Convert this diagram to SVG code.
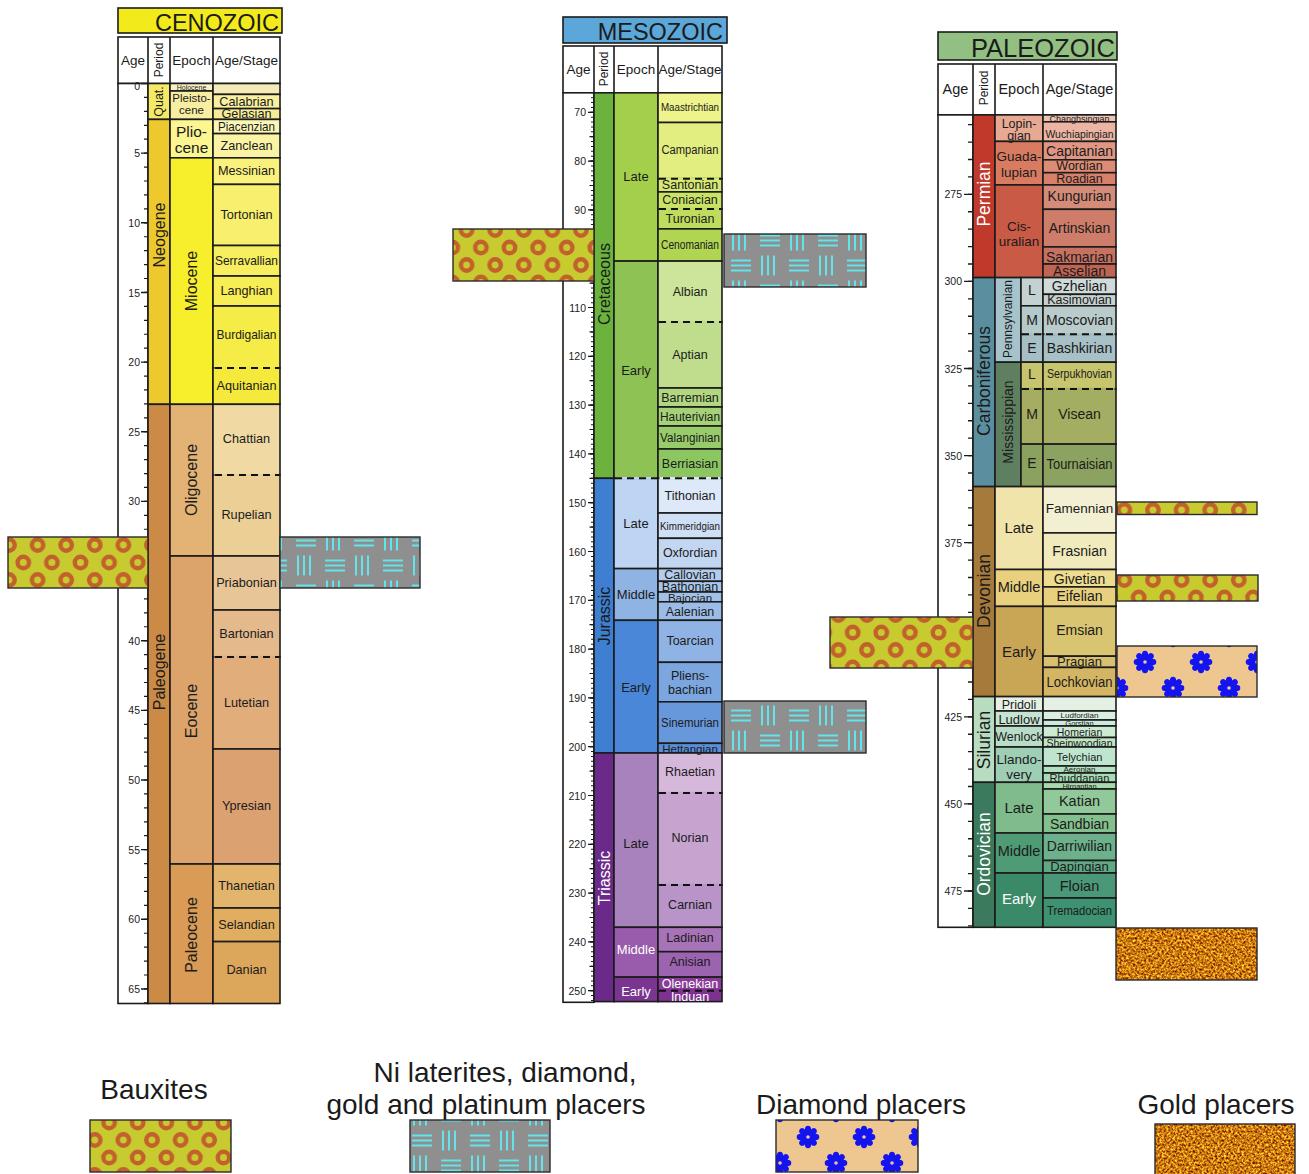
<svg xmlns="http://www.w3.org/2000/svg" width="1309" height="1174" viewBox="0 0 1309 1174">
<style>
.c{stroke:#1b1b1b;stroke-width:1.6}
.ob{fill:none;stroke:#2a2a2a;stroke-width:1.4}
text{font-family:"Liberation Sans",Arial,Helvetica,sans-serif;fill:#1b1b1b}
.m{text-anchor:middle;dominant-baseline:central}
.cs{font-size:12.7px}
.ce{font-size:16px}
.ms{font-size:12.5px}
.me{font-size:13px}
.ps{font-size:14px}
.pe{font-size:14.5px}
.pp{font-size:17.5px}
.h{font-size:13.5px}
.hp{font-size:12px}
.ax{font-size:10.5px;text-anchor:end;dominant-baseline:central;fill:#222}
.w{fill:#fff}
.d{stroke:#111;stroke-width:2;stroke-dasharray:7 5;fill:none}
.lg{font-size:28px;text-anchor:middle}
.ttl{text-anchor:end}
</style>
<defs>
<pattern id="pBaux" patternUnits="userSpaceOnUse" width="28.6" height="35" x="9" y="545">
<rect width="28.6" height="35" fill="#c7cb30"/>
<g fill="none" stroke="#c2612c" stroke-width="4.4">
<circle cx="0" cy="0" r="5.7"/><circle cx="28.6" cy="0" r="5.7"/><circle cx="0" cy="35" r="5.7"/><circle cx="28.6" cy="35" r="5.7"/><circle cx="14.3" cy="17.5" r="5.7"/>
</g>
</pattern>
<pattern id="pNi" patternUnits="userSpaceOnUse" width="58" height="50" x="410" y="1128">
<rect width="58" height="50" fill="#8f8f8f"/>
<path fill="none" stroke="#63e3ea" stroke-width="2" d="M2 7.5H22M2 12.5H22M2 17.5H22M33 2.5V22.5M39 2.5V22.5M45 2.5V22.5M31 32.5H51M31 37.5H51M31 42.5H51M4 27.5V47.5M10 27.5V47.5M16 27.5V47.5"/>
</pattern>
<g id="flw">
<g fill="#1414f0">
<ellipse cx="0" cy="-7" rx="3.2" ry="4.3"/>
<ellipse cx="0" cy="-7" rx="3.2" ry="4.3" transform="rotate(45)"/>
<ellipse cx="0" cy="-7" rx="3.2" ry="4.3" transform="rotate(90)"/>
<ellipse cx="0" cy="-7" rx="3.2" ry="4.3" transform="rotate(135)"/>
<ellipse cx="0" cy="-7" rx="3.2" ry="4.3" transform="rotate(180)"/>
<ellipse cx="0" cy="-7" rx="3.2" ry="4.3" transform="rotate(225)"/>
<ellipse cx="0" cy="-7" rx="3.2" ry="4.3" transform="rotate(270)"/>
<ellipse cx="0" cy="-7" rx="3.2" ry="4.3" transform="rotate(315)"/>
<circle r="5"/>
</g>
<circle r="1.8" fill="#eec68f"/>
</g>
<pattern id="pDia" patternUnits="userSpaceOnUse" width="56" height="52" x="794" y="1124">
<rect width="56" height="52" fill="#eec68f"/>
<use href="#flw" x="14" y="13"/><use href="#flw" x="42" y="39"/>
</pattern>
<pattern id="pDia2" patternUnits="userSpaceOnUse" width="56" height="52" x="1131" y="649">
<rect width="56" height="52" fill="#eec68f"/>
<use href="#flw" x="14" y="13"/><use href="#flw" x="42" y="39"/>
</pattern>
<filter id="fGold" x="0" y="0" width="1" height="1" color-interpolation-filters="sRGB">
<feTurbulence type="fractalNoise" baseFrequency="0.45" numOctaves="2" seed="7"/>
<feColorMatrix type="matrix" values="1.1 0 0 0 0.24  1.5 0 0 0 -0.27  0.3 0 0 0 -0.08  0 0 0 0 1"/>
</filter>
</defs>
<rect width="1309" height="1174" fill="#fff"/>

<g id="cenozoic">
<rect class="c" x="118" y="8" width="164" height="25" fill="#f3ea1b" stroke-width="2"/>
<text class="ttl" x="279" y="30.7" font-size="23.5">CENOZOIC</text>
<rect class="c" x="118" y="37" width="162" height="46.5" fill="#fff"/>
<path class="c" fill="none" d="M148 37V83.5M170 37V83.5M213 37V83.5"/>
<text class="m h" x="133" y="60">Age</text>
<text class="m hp" transform="translate(159,60) rotate(-90)">Period</text>
<text class="m h" x="191.5" y="60">Epoch</text>
<text class="m h" x="246.5" y="60">Age/Stage</text>
<rect class="c" x="118" y="83.5" width="30" height="920" fill="#fff"/>
<line x1="146" y1="82.9" x2="146" y2="1004" stroke="#1b1b1b" stroke-width="4" stroke-dasharray="1.2 12.73"/>
<line x1="144.5" y1="82.8" x2="144.5" y2="1004" stroke="#1b1b1b" stroke-width="7" stroke-dasharray="1.4 68.25"/>
<text class="ax" x="140" y="86">0</text><text class="ax" x="140" y="153.2">5</text><text class="ax" x="140" y="222.8">10</text><text class="ax" x="140" y="292.5">15</text><text class="ax" x="140" y="362.1">20</text><text class="ax" x="140" y="431.8">25</text><text class="ax" x="140" y="501.4">30</text><text class="ax" x="140" y="571.1">35</text><text class="ax" x="140" y="640.7">40</text><text class="ax" x="140" y="710.4">45</text><text class="ax" x="140" y="780">50</text><text class="ax" x="140" y="849.7">55</text><text class="ax" x="140" y="919.3">60</text><text class="ax" x="140" y="989">65</text>
<rect class="c" x="148" y="83.5" width="22" height="35.9" fill="#f5ea68"/>
<rect class="c" x="148" y="119.4" width="22" height="284.9" fill="#edc92e"/>
<rect class="c" x="148" y="404.3" width="22" height="599.2" fill="#cc8a47"/>
<text class="m" font-size="12.5" transform="translate(159,101.5) rotate(-90)">Quat.</text>
<text class="m ce" transform="translate(159,235) rotate(-90)">Neogene</text>
<text class="m ce" transform="translate(159,672) rotate(-90)">Paleogene</text>
<rect class="c" x="170" y="83.5" width="43" height="7.5" fill="#faf2c6"/>
<rect class="c" x="170" y="91" width="43" height="28.4" fill="#f8eea2"/>
<rect class="c" x="170" y="119.4" width="43" height="38.4" fill="#fbf592"/>
<rect class="c" x="170" y="157.8" width="43" height="246.5" fill="#f7ef2c"/>
<rect class="c" x="170" y="404.3" width="43" height="151.7" fill="#e2b374"/>
<rect class="c" x="170" y="556" width="43" height="308" fill="#dca36a"/>
<rect class="c" x="170" y="864" width="43" height="139.5" fill="#d99b56"/>
<text class="m" font-size="7" x="191.5" y="87.3">Holocene</text>
<text class="m" font-size="11.5" x="191.5" y="97.5">Pleisto-</text>
<text class="m" font-size="11.5" x="191.5" y="109.5">cene</text>
<text class="m" font-size="15.5" x="191.5" y="131.5">Plio-</text>
<text class="m" font-size="15.5" x="191.5" y="147.5">cene</text>
<text class="m ce" transform="translate(191.5,281) rotate(-90)">Miocene</text>
<text class="m ce" transform="translate(191.5,480) rotate(-90)">Oligocene</text>
<text class="m ce" transform="translate(191.5,711) rotate(-90)">Eocene</text>
<text class="m ce" transform="translate(191.5,935) rotate(-90)">Paleocene</text>
<rect class="c" x="213" y="83.5" width="67" height="10.9" fill="#f5ebb8"/>
<rect class="c" x="213" y="94.4" width="67" height="14.2" fill="#f8f09e"/>
<rect class="c" x="213" y="108.6" width="67" height="10.8" fill="#f6ec96"/>
<rect class="c" x="213" y="119.4" width="67" height="14.2" fill="#fbf6b6"/>
<rect class="c" x="213" y="133.6" width="67" height="24.2" fill="#faf3a4"/>
<rect class="c" x="213" y="157.8" width="67" height="26.6" fill="#f9f17c"/>
<rect class="c" x="213" y="184.4" width="67" height="61.1" fill="#f8ef6e"/>
<rect class="c" x="213" y="245.5" width="67" height="30.5" fill="#f7ee60"/>
<rect class="c" x="213" y="276" width="67" height="30" fill="#f7ed54"/>
<rect class="c" x="213" y="306" width="67" height="62" fill="#f6ec48"/>
<rect class="c" x="213" y="368" width="67" height="36.3" fill="#f5ea3c"/>
<rect class="c" x="213" y="404.3" width="67" height="70.7" fill="#f0d9a3"/>
<rect class="c" x="213" y="475" width="67" height="81" fill="#eccf95"/>
<rect class="c" x="213" y="556" width="67" height="54" fill="#e8c597"/>
<rect class="c" x="213" y="610" width="67" height="47" fill="#e4b98b"/>
<rect class="c" x="213" y="657" width="67" height="92" fill="#e0ad7b"/>
<rect class="c" x="213" y="749" width="67" height="115" fill="#dca171"/>
<rect class="c" x="213" y="864" width="67" height="44" fill="#e3b46b"/>
<rect class="c" x="213" y="908" width="67" height="33.6" fill="#e1ae61"/>
<rect class="c" x="213" y="941.6" width="67" height="61.9" fill="#dca65b"/>
<path stroke-width="2.6" fill="none" d="M214.5 368H278.5" stroke="#f5ea3c"/>
<path stroke-width="2.6" fill="none" d="M214.5 475H278.5" stroke="#eccf95"/>
<path stroke-width="2.6" fill="none" d="M214.5 657H278.5" stroke="#e0ad7b"/>
<path class="d" d="M215 368H279M215 475H279M215 657H279"/>
<g class="m cs">
<text x="246.5" y="101.5">Calabrian</text>
<text x="246.5" y="114">Gelasian</text>
<text x="246.5" y="126.5" textLength="57" lengthAdjust="spacingAndGlyphs">Piacenzian</text>
<text x="246.5" y="145.7">Zanclean</text>
<text x="246.5" y="171.1">Messinian</text>
<text x="246.5" y="215">Tortonian</text>
<text x="246.5" y="260.8" textLength="63" lengthAdjust="spacingAndGlyphs">Serravallian</text>
<text x="246.5" y="291">Langhian</text>
<text x="246.5" y="335" textLength="60" lengthAdjust="spacingAndGlyphs">Burdigalian</text>
<text x="246.5" y="386">Aquitanian</text>
<text x="246.5" y="439">Chattian</text>
<text x="246.5" y="515">Rupelian</text>
<text x="246.5" y="582.5">Priabonian</text>
<text x="246.5" y="633.5">Bartonian</text>
<text x="246.5" y="703">Lutetian</text>
<text x="246.5" y="806">Ypresian</text>
<text x="246.5" y="886">Thanetian</text>
<text x="246.5" y="925">Selandian</text>
<text x="246.5" y="970">Danian</text>
</g>
</g>

<g id="mesozoic">
<rect class="c" x="563" y="17" width="164" height="26" fill="#5ba7da" stroke-width="2"/>
<text class="ttl" x="723" y="40" font-size="23.5">MESOZOIC</text>
<rect class="c" x="563" y="46" width="159" height="46.8" fill="#fff"/>
<path class="c" fill="none" d="M594 46V92.8M614 46V92.8M658 46V92.8"/>
<text class="m h" x="578.5" y="69.5">Age</text>
<text class="m hp" transform="translate(604,69) rotate(-90)">Period</text>
<text class="m h" x="636" y="69.5">Epoch</text>
<text class="m h" x="690" y="69.5">Age/Stage</text>
<rect class="c" x="563" y="92.8" width="31" height="909.5" fill="#fff"/>
<line x1="592.5" y1="92.3" x2="592.5" y2="1002" stroke="#1b1b1b" stroke-width="3" stroke-dasharray="1 3.88"/>
<line x1="591.75" y1="111.7" x2="591.75" y2="1002" stroke="#1b1b1b" stroke-width="4.5" stroke-dasharray="1.2 23.2"/>
<line x1="591" y1="111.7" x2="591" y2="1002" stroke="#1b1b1b" stroke-width="6" stroke-dasharray="1.2 47.6"/>
<g font-size="10">
<text class="ax" x="586" y="112.3">70</text><text class="ax" x="586" y="161.1">80</text><text class="ax" x="586" y="209.9">90</text><text class="ax" x="586" y="258.7">100</text><text class="ax" x="586" y="307.5">110</text><text class="ax" x="586" y="356.3">120</text><text class="ax" x="586" y="405.1">130</text><text class="ax" x="586" y="453.9">140</text><text class="ax" x="586" y="502.7">150</text><text class="ax" x="586" y="551.5">160</text><text class="ax" x="586" y="600.3">170</text><text class="ax" x="586" y="649.1">180</text><text class="ax" x="586" y="697.9">190</text><text class="ax" x="586" y="746.7">200</text><text class="ax" x="586" y="795.5">210</text><text class="ax" x="586" y="844.3">220</text><text class="ax" x="586" y="893.1">230</text><text class="ax" x="586" y="941.9">240</text><text class="ax" x="586" y="990.7">250</text>
</g>
<rect class="c" x="594" y="92.8" width="20" height="385.5" fill="#6cb33e"/>
<rect class="c" x="594" y="478.3" width="20" height="274.7" fill="#3f7fd2"/>
<rect class="c" x="594" y="753" width="20" height="248.6" fill="#6b2a89"/>
<text class="m ce" transform="translate(604,284) rotate(-90)">Cretaceous</text>
<text class="m ce" transform="translate(604,616) rotate(-90)">Jurassic</text>
<text class="m ce w" transform="translate(604,878) rotate(-90)">Triassic</text>
<rect class="c" x="614" y="92.8" width="44" height="168.3" fill="#a4cf4b"/>
<rect class="c" x="614" y="261.1" width="44" height="217.2" fill="#8fc254"/>
<rect class="c" x="614" y="478.3" width="44" height="90.3" fill="#bdd5f2"/>
<rect class="c" x="614" y="568.6" width="44" height="51.7" fill="#8fb3e2"/>
<rect class="c" x="614" y="620.3" width="44" height="132.7" fill="#4b87d8"/>
<rect class="c" x="614" y="753" width="44" height="174.3" fill="#a882bd"/>
<rect class="c" x="614" y="927.3" width="44" height="49.8" fill="#995bab"/>
<rect class="c" x="614" y="977.1" width="44" height="24.5" fill="#7a3591"/>
<g class="m me">
<text x="636" y="176">Late</text>
<text x="636" y="370">Early</text>
<text x="636" y="523">Late</text>
<text x="636" y="594.5">Middle</text>
<text x="636" y="687">Early</text>
<text x="636" y="843">Late</text>
<text class="w" x="636" y="949">Middle</text>
<text class="w" x="636" y="991">Early</text>
</g>
<rect class="c" x="658" y="92.8" width="64" height="29.7" fill="#eef38c"/>
<rect class="c" x="658" y="122.5" width="64" height="56.2" fill="#e3ee80"/>
<rect class="c" x="658" y="178.7" width="64" height="13.2" fill="#d5e774"/>
<rect class="c" x="658" y="191.9" width="64" height="17" fill="#cae367"/>
<rect class="c" x="658" y="208.9" width="64" height="20" fill="#bedc5d"/>
<rect class="c" x="658" y="228.9" width="64" height="32.2" fill="#b0d553"/>
<rect class="c" x="658" y="261.1" width="64" height="61" fill="#cde49b"/>
<rect class="c" x="658" y="322.1" width="64" height="65.9" fill="#bfdd8d"/>
<rect class="c" x="658" y="388" width="64" height="19" fill="#b2d781"/>
<rect class="c" x="658" y="407" width="64" height="19" fill="#a5d276"/>
<rect class="c" x="658" y="426" width="64" height="23" fill="#98cc6b"/>
<rect class="c" x="658" y="449" width="64" height="29.3" fill="#8cc661"/>
<rect class="c" x="658" y="478.3" width="64" height="34.7" fill="#dde8f8"/>
<rect class="c" x="658" y="513" width="64" height="25.3" fill="#cfdff5"/>
<rect class="c" x="658" y="538.3" width="64" height="30.3" fill="#c2d6f1"/>
<rect class="c" x="658" y="568.6" width="64" height="12.7" fill="#b3cdee"/>
<rect class="c" x="658" y="581.3" width="64" height="10.7" fill="#aac7eb"/>
<rect class="c" x="658" y="592" width="64" height="9.8" fill="#a2c1e8"/>
<rect class="c" x="658" y="601.8" width="64" height="18.5" fill="#9bbce6"/>
<rect class="c" x="658" y="620.3" width="64" height="42" fill="#8fb3e4"/>
<rect class="c" x="658" y="662.3" width="64" height="39.5" fill="#7ba6e0"/>
<rect class="c" x="658" y="701.8" width="64" height="41.5" fill="#6898dc"/>
<rect class="c" x="658" y="743.3" width="64" height="9.7" fill="#5a8ed8"/>
<rect class="c" x="658" y="753" width="64" height="40" fill="#d6b8db"/>
<rect class="c" x="658" y="793" width="64" height="92" fill="#c7a3d0"/>
<rect class="c" x="658" y="885" width="64" height="42.3" fill="#b894c8"/>
<rect class="c" x="658" y="927.3" width="64" height="24.4" fill="#a874b8"/>
<rect class="c" x="658" y="951.7" width="64" height="25.4" fill="#9c63b0"/>
<rect class="c" x="658" y="977.1" width="64" height="13.6" fill="#8a3c9a"/>
<rect class="c" x="658" y="990.7" width="64" height="10.9" fill="#7e3290"/>
<path stroke-width="2.6" fill="none" stroke="#bdd5f2" d="M615.5 478.3H656.5"/>
<path stroke-width="2.6" fill="none" stroke="#dde8f8" d="M659.5 478.3H720.5"/>
<path stroke-width="2.6" fill="none" stroke="#d5e774" d="M659.5 178.7H720.5"/>
<path stroke-width="2.6" fill="none" stroke="#bedc5d" d="M659.5 208.9H720.5"/>
<path stroke-width="2.6" fill="none" stroke="#bfdd8d" d="M659.5 322.1H720.5"/>
<path stroke-width="2.6" fill="none" stroke="#c7a3d0" d="M659.5 793H720.5"/>
<path stroke-width="2.6" fill="none" stroke="#b894c8" d="M659.5 885H720.5"/>
<path stroke-width="2.6" fill="none" stroke="#7e3290" d="M659.5 990.7H720.5"/>
<path class="d" d="M615 478.3H721M659 178.7H721M659 208.9H721M659 322.1H721M659 793H721M659 885H721M659 990.7H721"/>
<g class="m ms">
<text x="690" y="107" font-size="11.5" textLength="58" lengthAdjust="spacingAndGlyphs">Maastrichtian</text>
<text x="690" y="150" textLength="57" lengthAdjust="spacingAndGlyphs">Campanian</text>
<text x="690" y="185.3">Santonian</text>
<text x="690" y="200.4">Coniacian</text>
<text x="690" y="218.9">Turonian</text>
<text x="690" y="245" textLength="58" lengthAdjust="spacingAndGlyphs">Cenomanian</text>
<text x="690" y="291.6">Albian</text>
<text x="690" y="355">Aptian</text>
<text x="690" y="397.5">Barremian</text>
<text x="690" y="416.5" textLength="60" lengthAdjust="spacingAndGlyphs">Hauterivian</text>
<text x="690" y="437.5" textLength="60" lengthAdjust="spacingAndGlyphs">Valanginian</text>
<text x="690" y="463.6">Berriasian</text>
<text x="690" y="495.6">Tithonian</text>
<text x="690" y="525.6" font-size="11.5" textLength="60" lengthAdjust="spacingAndGlyphs">Kimmeridgian</text>
<text x="690" y="553.4">Oxfordian</text>
<text x="690" y="575">Callovian</text>
<text x="690" y="586.7">Bathonian</text>
<text x="690" y="597.5" font-size="11.5">Bajocian</text>
<text x="690" y="612">Aalenian</text>
<text x="690" y="641.3">Toarcian</text>
<text x="690" y="676">Pliens-</text>
<text x="690" y="690">bachian</text>
<text x="690" y="722.5" textLength="58" lengthAdjust="spacingAndGlyphs">Sinemurian</text>
<text x="690" y="748.5" font-size="11.5">Hettangian</text>
<text x="690" y="772">Rhaetian</text>
<text x="690" y="838">Norian</text>
<text x="690" y="905">Carnian</text>
<text x="690" y="938">Ladinian</text>
<text x="690" y="962">Anisian</text>
<text class="w" x="690" y="984">Olenekian</text>
<text class="w" x="690" y="997">Induan</text>
</g>
</g>

<g id="paleozoic">
<rect class="c" x="938" y="32" width="179" height="28" fill="#92bf82" stroke-width="2"/>
<text class="ttl" x="1115" y="57" font-size="25.5">PALEOZOIC</text>
<rect class="c" x="938" y="64" width="178" height="50.9" fill="#fff"/>
<path class="c" fill="none" d="M973 64V114.9M995 64V114.9M1043 64V114.9"/>
<text class="m" font-size="14.5" x="955.5" y="89">Age</text>
<text class="m hp" transform="translate(984,88) rotate(-90)">Period</text>
<text class="m" font-size="14.5" x="1019" y="89">Epoch</text>
<text class="m" font-size="14.5" x="1079.5" y="89">Age/Stage</text>
<rect class="c" x="938" y="114.9" width="35" height="812.4" fill="#fff"/>
<line x1="970.5" y1="124" x2="970.5" y2="927" stroke="#1b1b1b" stroke-width="5" stroke-dasharray="1.3 16.1175"/>
<line x1="968.5" y1="193.65" x2="968.5" y2="927" stroke="#1b1b1b" stroke-width="9" stroke-dasharray="1.3 85.79"/>
<g font-size="11">
<text class="ax" x="962" y="194.3">275</text><text class="ax" x="962" y="281.4">300</text><text class="ax" x="962" y="368.5">325</text><text class="ax" x="962" y="455.6">350</text><text class="ax" x="962" y="542.6">375</text><text class="ax" x="962" y="629.7">400</text><text class="ax" x="962" y="716.8">425</text><text class="ax" x="962" y="803.9">450</text><text class="ax" x="962" y="890.9">475</text>
</g>
<rect class="c" x="973" y="114.9" width="22" height="162.7" fill="#c0392b"/>
<rect class="c" x="973" y="277.6" width="22" height="209" fill="#5b8fa0"/>
<rect class="c" x="973" y="486.6" width="22" height="210" fill="#a67a3a"/>
<rect class="c" x="973" y="696.6" width="22" height="85.7" fill="#b8dcc0"/>
<rect class="c" x="973" y="782.3" width="22" height="145" fill="#3b7a5c"/>
<text class="m pp w" transform="translate(984,194) rotate(-90)">Permian</text>
<text class="m pp" transform="translate(984,381) rotate(-90)">Carboniferous</text>
<text class="m pp" transform="translate(984,591) rotate(-90)">Devonian</text>
<text class="m pp" transform="translate(984,740) rotate(-90)">Silurian</text>
<text class="m pp w" transform="translate(984,854) rotate(-90)">Ordovician</text>
<rect class="c" x="995" y="114.9" width="48" height="26.5" fill="#e8a993"/>
<rect class="c" x="995" y="141.4" width="48" height="43.5" fill="#d97b61"/>
<rect class="c" x="995" y="184.9" width="48" height="92.7" fill="#c85a46"/>
<rect class="c" x="995" y="277.6" width="26" height="84.6" fill="#a6c3cb"/>
<rect class="c" x="995" y="362.2" width="26" height="124.4" fill="#5f8060"/>
<rect class="c" x="1021" y="277.6" width="22" height="28.2" fill="#c3d2d0"/>
<rect class="c" x="1021" y="305.8" width="22" height="28.5" fill="#b4c9c9"/>
<rect class="c" x="1021" y="334.3" width="22" height="27.9" fill="#a6bfc6"/>
<rect class="c" x="1021" y="362.2" width="22" height="26.8" fill="#c6c46c"/>
<rect class="c" x="1021" y="389" width="22" height="55.1" fill="#a4ad62"/>
<rect class="c" x="1021" y="444.1" width="22" height="42.5" fill="#8ba15f"/>
<rect class="c" x="995" y="486.6" width="48" height="82.9" fill="#f0e4aa"/>
<rect class="c" x="995" y="569.5" width="48" height="36.9" fill="#e9d07e"/>
<rect class="c" x="995" y="606.4" width="48" height="90.2" fill="#c9a656"/>
<rect class="c" x="995" y="696.6" width="48" height="14.4" fill="#e5f0e5"/>
<rect class="c" x="995" y="711" width="48" height="15" fill="#c6e4d3"/>
<rect class="c" x="995" y="726" width="48" height="21" fill="#b8dcc8"/>
<rect class="c" x="995" y="747" width="48" height="35.3" fill="#9ecfb5"/>
<rect class="c" x="995" y="782.3" width="48" height="50.7" fill="#80bb8b"/>
<rect class="c" x="995" y="833" width="48" height="40" fill="#4f9b75"/>
<rect class="c" x="995" y="873" width="48" height="54.3" fill="#3a8a68"/>
<g class="m" font-size="13.5">
<text x="1019" y="123.5" font-size="12.5">Lopin-</text><text x="1019" y="135.5" font-size="12.5">gian</text>
<text x="1019" y="156">Guada-</text><text x="1019" y="172">lupian</text>
<text x="1019" y="226.5">Cis-</text><text x="1019" y="241">uralian</text>
<text font-size="12" transform="translate(1008,319) rotate(-90)">Pennsylvanian</text>
<text font-size="14" transform="translate(1008,422) rotate(-90)">Mississippian</text>
<text font-size="14" x="1032" y="290">L</text>
<text font-size="14" x="1032" y="319.5">M</text>
<text font-size="14" x="1032" y="347.5">E</text>
<text font-size="14" x="1032" y="373.5">L</text>
<text font-size="14" x="1032" y="414">M</text>
<text font-size="14" x="1032" y="463">E</text>
<text font-size="15" x="1019" y="527">Late</text>
<text font-size="14.5" x="1019" y="587">Middle</text>
<text font-size="15" x="1019" y="651">Early</text>
<text font-size="12.5" x="1019" y="704.5">Pridoli</text>
<text font-size="13" x="1019" y="719">Ludlow</text>
<text font-size="12.5" x="1019" y="737">Wenlock</text>
<text x="1019" y="759.5">Llando-</text><text x="1019" y="774">very</text>
<text font-size="15" x="1019" y="807">Late</text>
<text font-size="14.5" x="1019" y="851">Middle</text>
<text font-size="15" class="w" x="1019" y="898.5">Early</text>
</g>
<rect class="c" x="1043" y="114.9" width="73" height="6.9" fill="#efc2b2"/>
<rect class="c" x="1043" y="121.8" width="73" height="19.6" fill="#ecb4a2"/>
<rect class="c" x="1043" y="141.4" width="73" height="18.4" fill="#e09682"/>
<rect class="c" x="1043" y="159.8" width="73" height="12.9" fill="#dc8b74"/>
<rect class="c" x="1043" y="172.7" width="73" height="12.2" fill="#d8806a"/>
<rect class="c" x="1043" y="184.9" width="73" height="24.4" fill="#d48b78"/>
<rect class="c" x="1043" y="209.3" width="73" height="37.6" fill="#cd7d69"/>
<rect class="c" x="1043" y="246.9" width="73" height="17.1" fill="#c87161"/>
<rect class="c" x="1043" y="264" width="73" height="13.6" fill="#c06553"/>
<rect class="c" x="1043" y="277.6" width="73" height="16.7" fill="#d0dad8"/>
<rect class="c" x="1043" y="294.3" width="73" height="11.5" fill="#c6d2d0"/>
<rect class="c" x="1043" y="305.8" width="73" height="28.5" fill="#b9cccb"/>
<rect class="c" x="1043" y="334.3" width="73" height="27.9" fill="#a8c1c6"/>
<rect class="c" x="1043" y="362.2" width="73" height="26.8" fill="#c7c56e"/>
<rect class="c" x="1043" y="389" width="73" height="55.1" fill="#a4ae62"/>
<rect class="c" x="1043" y="444.1" width="73" height="42.5" fill="#8ca260"/>
<rect class="c" x="1043" y="486.6" width="73" height="46.3" fill="#f3efd2"/>
<rect class="c" x="1043" y="532.9" width="73" height="36.6" fill="#f0eabd"/>
<rect class="c" x="1043" y="569.5" width="73" height="17.4" fill="#eedd8e"/>
<rect class="c" x="1043" y="586.9" width="73" height="19.5" fill="#e8d07e"/>
<rect class="c" x="1043" y="606.4" width="73" height="49.8" fill="#d9c471"/>
<rect class="c" x="1043" y="656.2" width="73" height="11.2" fill="#d8c070"/>
<rect class="c" x="1043" y="667.4" width="73" height="29.2" fill="#d4b563"/>
<rect class="c" x="1043" y="696.6" width="73" height="14.4" fill="#e5f0e5"/>
<rect class="c" x="1043" y="711" width="73" height="9" fill="#d9efdf"/>
<rect class="c" x="1043" y="720" width="73" height="6" fill="#cdebdc"/>
<rect class="c" x="1043" y="726" width="73" height="11.5" fill="#cdead2"/>
<rect class="c" x="1043" y="737.5" width="73" height="9.5" fill="#bfe5c4"/>
<rect class="c" x="1043" y="747" width="73" height="19" fill="#bfe5cf"/>
<rect class="c" x="1043" y="766" width="73" height="7" fill="#b3e0c2"/>
<rect class="c" x="1043" y="773" width="73" height="9.3" fill="#a6dbb5"/>
<rect class="c" x="1043" y="782.3" width="73" height="6.7" fill="#a8d8ad"/>
<rect class="c" x="1043" y="789" width="73" height="25" fill="#92c99a"/>
<rect class="c" x="1043" y="814" width="73" height="19" fill="#84c08d"/>
<rect class="c" x="1043" y="833" width="73" height="27.5" fill="#6db18c"/>
<rect class="c" x="1043" y="860.5" width="73" height="12.5" fill="#61a985"/>
<rect class="c" x="1043" y="873" width="73" height="25" fill="#4b9879"/>
<rect class="c" x="1043" y="898" width="73" height="29.3" fill="#3e9171"/>
<path stroke-width="2.6" fill="none" stroke="#a7c0c6" d="M1022.5 334.3H1041.5M1044.5 334.3H1114.5"/>
<path stroke-width="2.6" fill="none" stroke="#a4ae62" d="M1022.5 389H1041.5M1044.5 389H1114.5"/>
<path class="d" d="M1022 334.3H1115M1022 389H1115"/>
<g class="m ps">
<text x="1079.5" y="119" font-size="9" textLength="60" lengthAdjust="spacingAndGlyphs">Changhsingian</text>
<text x="1079.5" y="133.5" font-size="11" textLength="68" lengthAdjust="spacingAndGlyphs">Wuchiapingian</text>
<text x="1079.5" y="150.7">Capitanian</text>
<text x="1079.5" y="166.2" font-size="12.5">Wordian</text>
<text x="1079.5" y="179" font-size="12.5">Roadian</text>
<text x="1079.5" y="196">Kungurian</text>
<text x="1079.5" y="227.5">Artinskian</text>
<text x="1079.5" y="256.5">Sakmarian</text>
<text x="1079.5" y="271">Asselian</text>
<text x="1079.5" y="285.5">Gzhelian</text>
<text x="1079.5" y="299.8" font-size="12.5">Kasimovian</text>
<text x="1079.5" y="319.5">Moscovian</text>
<text x="1079.5" y="347.5">Bashkirian</text>
<text x="1079.5" y="374" font-size="12.5" textLength="65" lengthAdjust="spacingAndGlyphs">Serpukhovian</text>
<text x="1079.5" y="414">Visean</text>
<text x="1079.5" y="463.5" textLength="66" lengthAdjust="spacingAndGlyphs">Tournaisian</text>
<text x="1079.5" y="508.5" font-size="13.5">Famennian</text>
<text x="1079.5" y="551">Frasnian</text>
<text x="1079.5" y="578.5">Givetian</text>
<text x="1079.5" y="596">Eifelian</text>
<text x="1079.5" y="630">Emsian</text>
<text x="1079.5" y="661.5" font-size="13">Pragian</text>
<text x="1079.5" y="682" textLength="66" lengthAdjust="spacingAndGlyphs">Lochkovian</text>
<text x="1079.5" y="715.5" font-size="8">Ludfordian</text>
<text x="1079.5" y="723" font-size="7.5">Gorstian</text>
<text x="1079.5" y="732.3" font-size="10.5">Homerian</text>
<text x="1079.5" y="742.5" font-size="10.5" textLength="66" lengthAdjust="spacingAndGlyphs">Sheinwoodian</text>
<text x="1079.5" y="756.5" font-size="11">Telychian</text>
<text x="1079.5" y="769.5" font-size="8">Aeronian</text>
<text x="1079.5" y="778" font-size="10.5" textLength="60" lengthAdjust="spacingAndGlyphs">Rhuddanian</text>
<text x="1079.5" y="786" font-size="7.5">Hirnantian</text>
<text x="1079.5" y="801" font-size="14.5">Katian</text>
<text x="1079.5" y="823.5">Sandbian</text>
<text x="1079.5" y="845.5">Darriwilian</text>
<text x="1079.5" y="866" font-size="13">Dapingian</text>
<text x="1079.5" y="886" font-size="14.5">Floian</text>
<text x="1079.5" y="910.5" font-size="12.5" textLength="65" lengthAdjust="spacingAndGlyphs">Tremadocian</text>
</g>
</g>

<g id="deposits">
<rect x="8" y="537" width="140" height="51" fill="url(#pBaux)"/><rect class="ob" x="8" y="537" width="140" height="51"/>
<rect x="280" y="537" width="140" height="51" fill="url(#pNi)"/><rect class="ob" x="280" y="537" width="140" height="51"/>
<rect x="453" y="229" width="141" height="52" fill="url(#pBaux)"/><rect class="ob" x="453" y="229" width="141" height="52"/>
<rect x="724" y="234" width="142" height="53" fill="url(#pNi)"/><rect class="ob" x="724" y="234" width="142" height="53"/>
<rect x="724" y="701" width="142" height="52" fill="url(#pNi)"/><rect class="ob" x="724" y="701" width="142" height="52"/>
<rect x="1117" y="502" width="140" height="12.5" fill="url(#pBaux)"/><rect class="ob" x="1117" y="502" width="140" height="12.5"/>
<rect x="1117" y="575" width="141" height="26" fill="url(#pBaux)"/><rect class="ob" x="1117" y="575" width="141" height="26"/>
<rect x="830" y="617" width="143" height="51" fill="url(#pBaux)"/><rect class="ob" x="830" y="617" width="143" height="51"/>
<rect x="1117" y="646" width="140" height="51" fill="url(#pDia2)"/><rect class="ob" x="1117" y="646" width="140" height="51"/>
<rect x="1116" y="928" width="141" height="52" fill="#c87a14" filter="url(#fGold)"/><rect class="ob" x="1116" y="928" width="141" height="52"/>
</g>

<g id="legend">
<text class="lg" x="154" y="1099">Bauxites</text>
<rect x="90" y="1120" width="141" height="52" fill="url(#pBaux)"/><rect class="ob" x="90" y="1120" width="141" height="52"/>
<text class="lg" x="505" y="1082">Ni laterites, diamond,</text>
<text class="lg" x="486" y="1114">gold and platinum placers</text>
<rect x="410" y="1120" width="140" height="52" fill="url(#pNi)"/><rect class="ob" x="410" y="1120" width="140" height="52"/>
<text class="lg" x="861" y="1114">Diamond placers</text>
<rect x="776" y="1120" width="142" height="52" fill="url(#pDia)"/><rect class="ob" x="776" y="1120" width="142" height="52"/>
<text class="lg" x="1216" y="1114">Gold placers</text>
<rect x="1155" y="1124" width="140" height="52" fill="#c87a14" filter="url(#fGold)"/><rect class="ob" x="1155" y="1124" width="140" height="52"/>
</g>
</svg>
